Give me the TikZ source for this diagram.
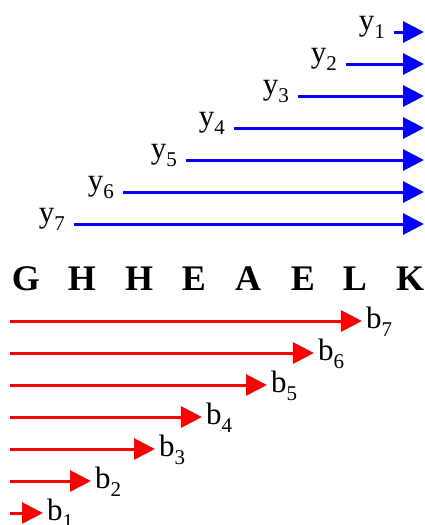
\documentclass[tikz,border=0pt]{standalone}
\usepackage{fontspec}
\setmainfont{Liberation Serif}
\usetikzlibrary{arrows.meta, positioning}
\definecolor{fwdBlue}{RGB}{0, 0, 255}
\definecolor{bwdRed}{RGB}{255, 0, 0}
\newcommand{\idx}[2]{#1\raisebox{-8pt}{\fontsize{21}{21}\selectfont #2}}

\begin{document}
\begin{tikzpicture}[
  x=1pt, y=-1pt,
  fwd/.style={
    draw=fwdBlue, line width=3pt,
    -{Triangle[length=21pt, width=21pt]}
  },
  bwd/.style={
    draw=bwdRed, line width=3pt,
    -{Triangle[length=21pt, width=21pt]}
  },
  tag/.style={font=\fontsize{31}{31}\selectfont, inner sep=0pt},
  res/.style={font=\fontsize{36}{36}\selectfont\bfseries, inner sep=0pt, anchor=base}
]
\useasboundingbox (0,0) rectangle (425,525);

\coordinate (ys1) at (394,32);  \coordinate (ye1) at (424,32);
\coordinate (ys2) at (346,64);  \coordinate (ye2) at (424,64);
\coordinate (ys3) at (298,96);  \coordinate (ye3) at (424,96);
\coordinate (ys4) at (234,128); \coordinate (ye4) at (424,128);
\coordinate (ys5) at (186,160); \coordinate (ye5) at (424,160);
\coordinate (ys6) at (123,192); \coordinate (ye6) at (424,192);
\coordinate (ys7) at (74,224);  \coordinate (ye7) at (424,224);

\node[tag, anchor=base east] (y1) at ([xshift=-9pt, yshift=2pt]ys1) {\idx{y}{1}};
\node[tag, anchor=base east] (y2) at ([xshift=-9pt, yshift=2pt]ys2) {\idx{y}{2}};
\node[tag, anchor=base east] (y3) at ([xshift=-9pt, yshift=2pt]ys3) {\idx{y}{3}};
\node[tag, anchor=base east] (y4) at ([xshift=-9pt, yshift=2pt]ys4) {\idx{y}{4}};
\node[tag, anchor=base east] (y5) at ([xshift=-9pt, yshift=2pt]ys5) {\idx{y}{5}};
\node[tag, anchor=base east] (y6) at ([xshift=-9pt, yshift=2pt]ys6) {\idx{y}{6}};
\node[tag, anchor=base east] (y7) at ([xshift=-9pt, yshift=2pt]ys7) {\idx{y}{7}};

\draw[fwd] (ys1) -- (ye1);
\draw[fwd] (ys2) -- (ye2);
\draw[fwd] (ys3) -- (ye3);
\draw[fwd] (ys4) -- (ye4);
\draw[fwd] (ys5) -- (ye5);
\draw[fwd] (ys6) -- (ye6);
\draw[fwd] (ys7) -- (ye7);

\node[res] (sG)  at (26,290)  {G};
\node[res] (sH1) at (82,290)  {H};
\node[res] (sH2) at (139,290) {H};
\node[res] (sE1) at (194,290) {E};
\node[res] (sA)  at (248,290) {A};
\node[res] (sE2) at (303,290) {E};
\node[res] (sL)  at (355,290) {L};
\node[res] (sK)  at (410,290) {K};

\coordinate (bs7) at (10,321); \coordinate (be7) at (362,321);
\coordinate (bs6) at (10,353); \coordinate (be6) at (314,353);
\coordinate (bs5) at (10,385); \coordinate (be5) at (267,385);
\coordinate (bs4) at (10,417); \coordinate (be4) at (202,417);
\coordinate (bs3) at (10,449); \coordinate (be3) at (155,449);
\coordinate (bs2) at (10,481); \coordinate (be2) at (91,481);
\coordinate (bs1) at (10,513); \coordinate (be1) at (43,513);

\draw[bwd] (bs7) -- (be7);
\draw[bwd] (bs6) -- (be6);
\draw[bwd] (bs5) -- (be5);
\draw[bwd] (bs4) -- (be4);
\draw[bwd] (bs3) -- (be3);
\draw[bwd] (bs2) -- (be2);
\draw[bwd] (bs1) -- (be1);

\node[tag, anchor=base west] (b7) at ([xshift=4pt, yshift=-7pt]be7) {\idx{b}{7}};
\node[tag, anchor=base west] (b6) at ([xshift=4pt, yshift=-7pt]be6) {\idx{b}{6}};
\node[tag, anchor=base west] (b5) at ([xshift=4pt, yshift=-7pt]be5) {\idx{b}{5}};
\node[tag, anchor=base west] (b4) at ([xshift=4pt, yshift=-7pt]be4) {\idx{b}{4}};
\node[tag, anchor=base west] (b3) at ([xshift=4pt, yshift=-7pt]be3) {\idx{b}{3}};
\node[tag, anchor=base west] (b2) at ([xshift=4pt, yshift=-7pt]be2) {\idx{b}{2}};
\node[tag, anchor=base west] (b1) at ([xshift=4pt, yshift=-7pt]be1) {\idx{b}{1}};

\end{tikzpicture}
\end{document}
